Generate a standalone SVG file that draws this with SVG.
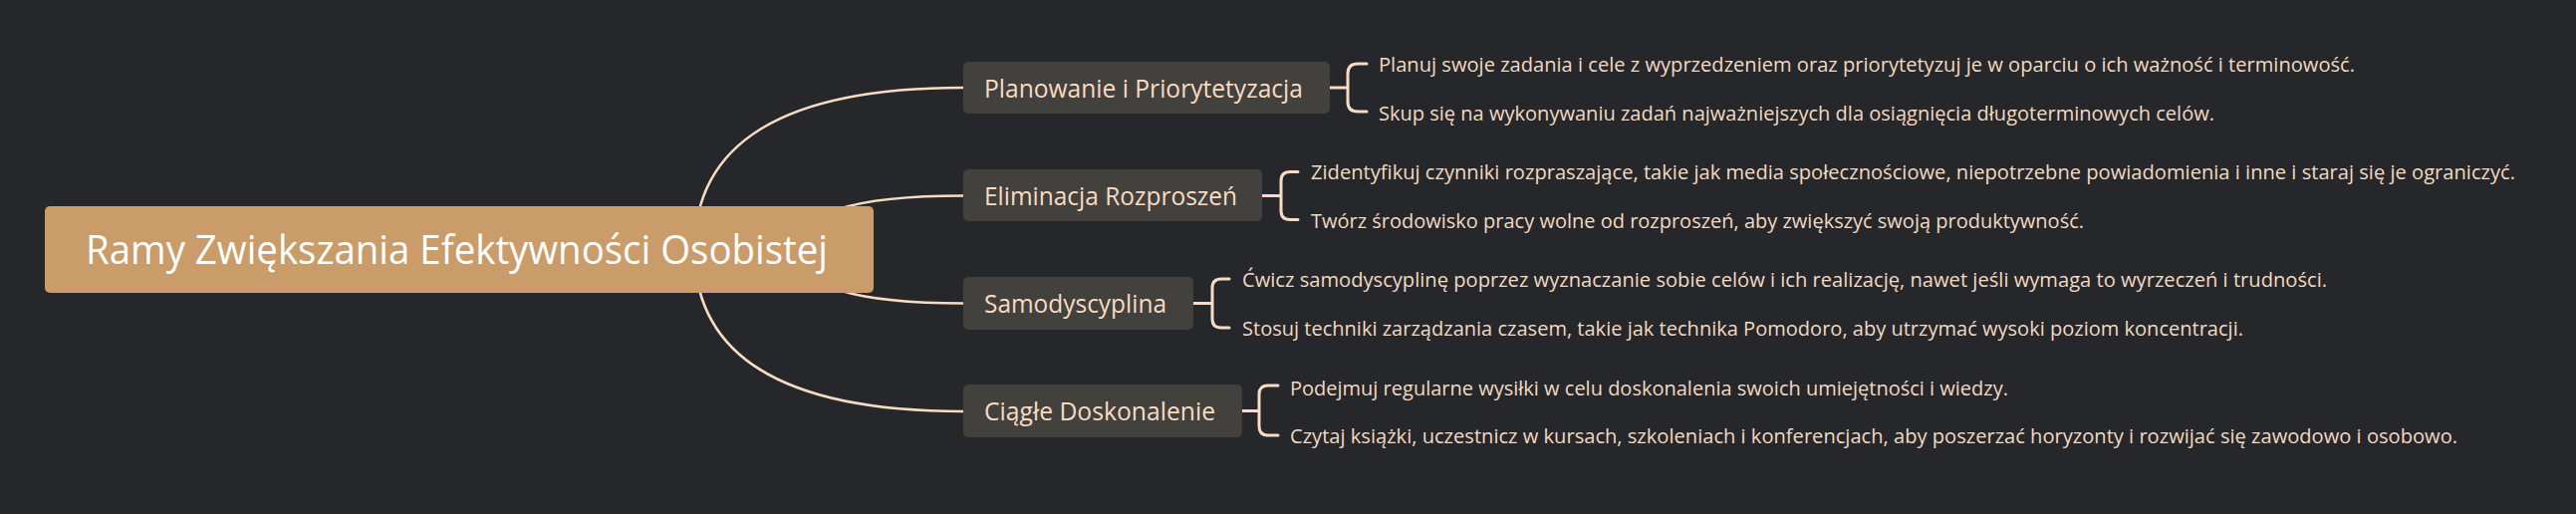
<svg xmlns="http://www.w3.org/2000/svg" width="2586" height="516" viewBox="0 0 2586 516">
<style>
.bg{fill:#26272a}
.root rect{fill:#c99c69}
.root text{fill:#ffffff;font-family:"Open Sans","Noto Sans","DejaVu Sans",sans-serif;font-size:40px}
.branch rect{fill:#43413d}
.branch text{fill:#f6dcc4;font-family:"Open Sans","Noto Sans","DejaVu Sans",sans-serif;font-size:25px}
.leaf{fill:#f2d9c1;font-family:"Open Sans","Noto Sans","DejaVu Sans",sans-serif;font-size:20px}
.conn path{fill:none;stroke:#f7dcc4;stroke-width:2.6;stroke-linecap:round}
.conn path.br{stroke-width:3}
</style>
<rect class="bg" x="0" y="0" width="2586" height="516"/>
<g id="connectors" class="conn">
<path d="M697 252 Q697 88 967 88"/>
<path d="M800 250 Q800 196.5 967 196.5"/>
<path d="M800 251 Q800 304.5 967 304.5"/>
<path d="M697 249 Q697 413 967 413"/>
<path class="br" d="M1335 88 H1353 M1372 64 H1363 Q1353 64 1353 74 V102 Q1353 112 1363 112 H1372"/>
<path class="br" d="M1267 196.5 H1286 M1303 172.5 H1295 Q1286 172.5 1286 181.5 V211.5 Q1286 220.5 1295 220.5 H1303"/>
<path class="br" d="M1198 304.5 H1217 M1234 280 H1226 Q1217 280 1217 289 V320 Q1217 329 1226 329 H1234"/>
<path class="br" d="M1247 412.5 H1264 M1283 387 H1273 Q1264 387 1264 396 V428 Q1264 437 1273 437 H1283"/>
</g>
<g id="root" class="root">
<rect x="45" y="207" width="832" height="87" rx="5"/>
<text x="86" y="265" textLength="745" lengthAdjust="spacingAndGlyphs">Ramy Zwiększania Efektywności Osobistej</text>
</g>
<g id="b1" class="branch">
<rect x="967" y="62" width="368" height="52" rx="5"/>
<text x="988" y="98" textLength="320" lengthAdjust="spacingAndGlyphs">Planowanie i Priorytetyzacja</text>
</g>
<g id="b2" class="branch">
<rect x="967" y="170" width="300" height="52" rx="5"/>
<text x="988" y="206" textLength="254" lengthAdjust="spacingAndGlyphs">Eliminacja Rozproszeń</text>
</g>
<g id="b3" class="branch">
<rect x="967" y="278" width="231" height="53" rx="5"/>
<text x="988" y="314" textLength="183" lengthAdjust="spacingAndGlyphs">Samodyscyplina</text>
</g>
<g id="b4" class="branch">
<rect x="967" y="386" width="280" height="53" rx="5"/>
<text x="988" y="422" textLength="232" lengthAdjust="spacingAndGlyphs">Ciągłe Doskonalenie</text>
</g>
<g id="l1a"><text class="leaf" x="1384" y="72" textLength="980" lengthAdjust="spacingAndGlyphs">Planuj swoje zadania i cele z wyprzedzeniem oraz priorytetyzuj je w oparciu o ich ważność i terminowość.</text></g>
<g id="l1b"><text class="leaf" x="1384" y="121" textLength="839" lengthAdjust="spacingAndGlyphs">Skup się na wykonywaniu zadań najważniejszych dla osiągnięcia długoterminowych celów.</text></g>
<g id="l2a"><text class="leaf" x="1316" y="180" textLength="1209" lengthAdjust="spacingAndGlyphs">Zidentyfikuj czynniki rozpraszające, takie jak media społecznościowe, niepotrzebne powiadomienia i inne i staraj się je ograniczyć.</text></g>
<g id="l2b"><text class="leaf" x="1316" y="228.5" textLength="776" lengthAdjust="spacingAndGlyphs">Twórz środowisko pracy wolne od rozproszeń, aby zwiększyć swoją produktywność.</text></g>
<g id="l3a"><text class="leaf" x="1247" y="287.5" textLength="1089" lengthAdjust="spacingAndGlyphs">Ćwicz samodyscyplinę poprzez wyznaczanie sobie celów i ich realizację, nawet jeśli wymaga to wyrzeczeń i trudności.</text></g>
<g id="l3b"><text class="leaf" x="1247" y="337" textLength="1005" lengthAdjust="spacingAndGlyphs">Stosuj techniki zarządzania czasem, takie jak technika Pomodoro, aby utrzymać wysoki poziom koncentracji.</text></g>
<g id="l4a"><text class="leaf" x="1295" y="396.5" textLength="721" lengthAdjust="spacingAndGlyphs">Podejmuj regularne wysiłki w celu doskonalenia swoich umiejętności i wiedzy.</text></g>
<g id="l4b"><text class="leaf" x="1295" y="445" textLength="1172" lengthAdjust="spacingAndGlyphs">Czytaj książki, uczestnicz w kursach, szkoleniach i konferencjach, aby poszerzać horyzonty i rozwijać się zawodowo i osobowo.</text></g>
</svg>
